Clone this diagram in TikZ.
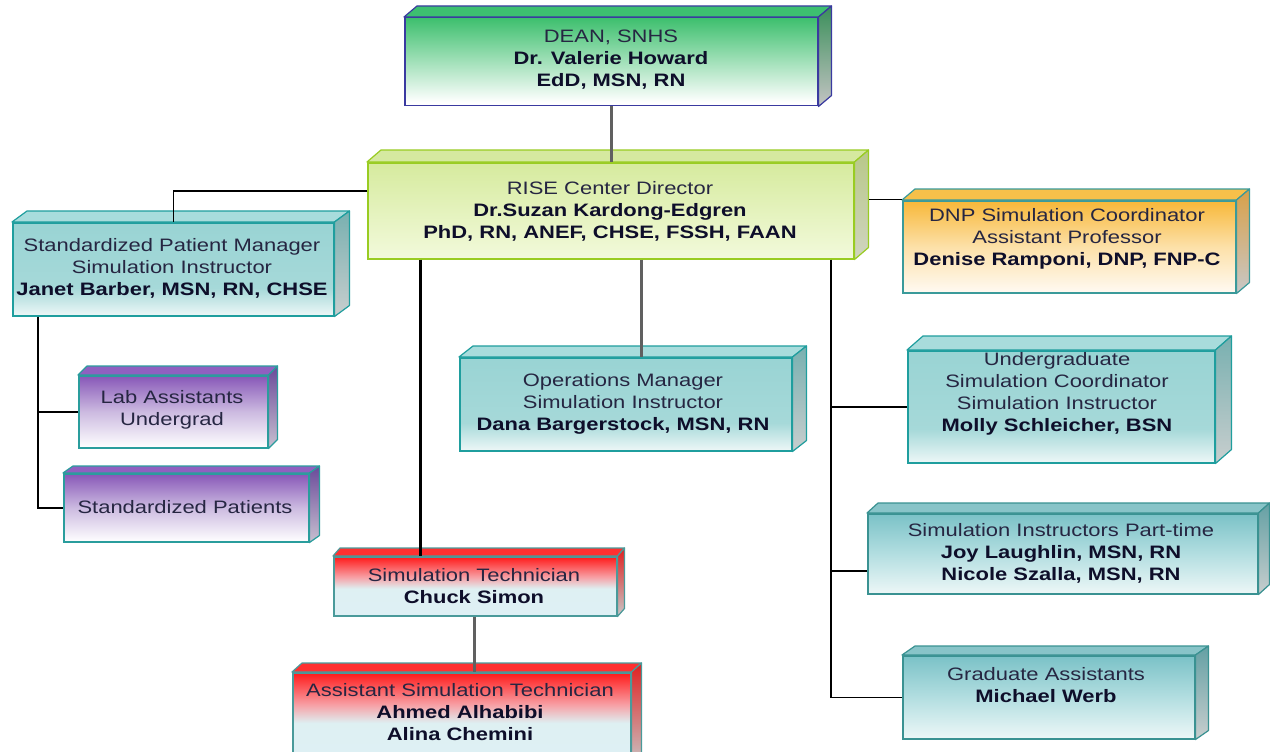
\documentclass[tikz,border=0pt]{standalone}
\usepackage{fontspec}
\setmainfont{Liberation Sans}[FakeStretch=1.22]
\usetikzlibrary{calc}
\definecolor{txtreg}{HTML}{262642}
\definecolor{txtbold}{HTML}{0E0E2A}
\definecolor{bdgreen}{HTML}{3A3AA0}
\definecolor{bdlime}{HTML}{99CC22}
\definecolor{bdteal}{HTML}{1F9E9E}
\definecolor{bdtealdk}{HTML}{3A9292}
\definecolor{bdpurple}{HTML}{2A9D9D}
\definecolor{bdorange}{HTML}{3A9A9A}
\definecolor{bdred}{HTML}{4A9A9A}
\pgfdeclareverticalshading{shgreen}{100bp}{rgb(0bp)=(1,1,1); rgb(27bp)=(1,1,1); rgb(75bp)=(0.24,0.75,0.43); rgb(100bp)=(0.24,0.75,0.43)}
\pgfdeclareverticalshading{shlime}{100bp}{rgb(0bp)=(0.95,0.98,0.86); rgb(25bp)=(0.95,0.98,0.86); rgb(75bp)=(0.84,0.92,0.62); rgb(100bp)=(0.84,0.92,0.62)}
\pgfdeclareverticalshading{shteal}{100bp}{rgb(0bp)=(0.93,0.97,0.97); rgb(25bp)=(0.93,0.97,0.97); rgb(40bp)=(0.65,0.85,0.85); rgb(75bp)=(0.60,0.83,0.83); rgb(100bp)=(0.60,0.83,0.83)}
\pgfdeclareverticalshading{shtealdk}{100bp}{rgb(0bp)=(0.93,0.97,0.97); rgb(25bp)=(0.93,0.97,0.97); rgb(50bp)=(0.70,0.87,0.88); rgb(75bp)=(0.48,0.76,0.78); rgb(100bp)=(0.48,0.76,0.78)}
\pgfdeclareverticalshading{shpurple}{100bp}{rgb(0bp)=(1,1,1); rgb(25bp)=(1,1,1); rgb(50bp)=(0.80,0.73,0.88); rgb(75bp)=(0.53,0.34,0.72); rgb(100bp)=(0.53,0.34,0.72)}
\pgfdeclareverticalshading{shorange}{100bp}{rgb(0bp)=(1,0.98,0.95); rgb(25bp)=(1,0.98,0.95); rgb(50bp)=(0.99,0.88,0.66); rgb(75bp)=(0.97,0.72,0.22); rgb(100bp)=(0.97,0.72,0.22)}
\pgfdeclareverticalshading{shred}{100bp}{rgb(0bp)=(0.87,0.94,0.96); rgb(25bp)=(0.87,0.94,0.96); rgb(48bp)=(0.87,0.94,0.95); rgb(58bp)=(0.97,0.62,0.64); rgb(75bp)=(1,0.1,0.1); rgb(100bp)=(1,0.1,0.1)}
\tikzset{
  frontgreen/.style={shading=shgreen},
  topgreen/.style={fill={rgb,255:red,61;green,191;blue,112}},
  sidegreen/.style={top color={rgb,255:red,58;green,143;blue,90}, bottom color={rgb,255:red,196;green,196;blue,196}},
  frontlime/.style={shading=shlime},
  toplime/.style={fill={rgb,255:red,213;green,233;blue,160}},
  sidelime/.style={top color={rgb,255:red,184;green,200;blue,136}, bottom color={rgb,255:red,208;green,212;blue,192}},
  frontteal/.style={shading=shteal},
  topteal/.style={fill={rgb,255:red,168;green,220;blue,220}},
  sideteal/.style={top color={rgb,255:red,120;green,176;blue,176}, bottom color={rgb,255:red,200;green,206;blue,206}},
  fronttealdk/.style={shading=shtealdk},
  toptealdk/.style={fill={rgb,255:red,136;green,196;blue,200}},
  sidetealdk/.style={top color={rgb,255:red,100;green,160;blue,164}, bottom color={rgb,255:red,200;green,206;blue,206}},
  frontpurple/.style={shading=shpurple},
  toppurple/.style={fill={rgb,255:red,144;green,96;blue,192}},
  sidepurple/.style={top color={rgb,255:red,106;green,74;blue,154}, bottom color={rgb,255:red,200;green,192;blue,208}},
  frontorange/.style={shading=shorange},
  toporange/.style={fill={rgb,255:red,247;green,192;blue,74}},
  sideorange/.style={top color={rgb,255:red,216;green,160;blue,72}, bottom color={rgb,255:red,200;green,200;blue,200}},
  frontred/.style={shading=shred},
  topred/.style={fill={rgb,255:red,255;green,48;blue,48}},
  sidered/.style={top color={rgb,255:red,224;green,32;blue,32}, bottom color={rgb,255:red,200;green,200;blue,200}},
  txt/.style={align=center, inner sep=0pt, text=txtreg, font=\fontsize{18}{22}\selectfont},
  bline/.style={draw=black, line width=1.5pt},
  bthick/.style={draw=black, line width=3pt},
  gthick/.style={draw={rgb,255:red,96;green,96;blue,96}, line width=3pt},
}
\newcommand{\cbox}[8]{%
  \node[front#8, draw=bd#8, line width=1.5pt, inner sep=0pt, minimum width={#4-#2}, minimum height={#5-#3}, anchor=north west] (#1) at (#2,#3) {};
  \filldraw[top#8, draw=bd#8, line width=1.2pt, line join=round] (#1.north west) -- ++(#6,-#7) -- ($(#1.north east)+(#6,-#7)$) -- (#1.north east) -- cycle;
  \filldraw[side#8, draw=bd#8, line width=1.2pt, line join=round] (#1.north east) -- ++(#6,-#7) -- ($(#1.south east)+(#6,-#7)$) -- (#1.south east) -- cycle;
}
\newcommand{\bl}[1]{{\color{txtbold}\bfseries #1}}
\begin{document}
\begin{tikzpicture}[x=1pt,y=-1pt]
\useasboundingbox (0,0) rectangle (1270,752);
\clip (0,0) rectangle (1270,752);
\fill[white] (0,0) rectangle (1270,752);

\cbox{dean}{404}{17}{817}{105}{13}{11}{green}
\cbox{dir}{367}{162}{853}{258}{14}{12}{lime}
\cbox{spm}{12}{222}{333}{315}{15}{11}{teal}
\cbox{lab}{78}{375}{267}{447}{9}{9}{purple}
\cbox{sp}{63}{473}{308}{541}{10}{7}{purple}
\cbox{ops}{459}{357}{791}{450}{14}{11}{teal}
\cbox{ug}{907}{350}{1214}{462}{16}{14}{teal}
\cbox{dnp}{902}{200}{1235}{292}{13}{11}{orange}
\cbox{pt}{867}{513}{1257}{593}{11}{10}{tealdk}
\cbox{grad}{902}{655}{1194}{738}{13}{9}{tealdk}
\cbox{simt}{333}{556}{616}{615}{7}{8}{red}
\cbox{asst}{292}{672}{630}{765}{10}{9}{red}

% connectors
\draw[gthick] (611,0 |- dean.south) -- (611,0 |- dir.north);
\draw[bline] ([yshift=20pt]dir.west) -| (spm.north);
\draw[bline, line width=1.2pt] ([xshift=14pt,yshift=11pt]dir.east) -- ([yshift=11pt]dnp.west |- dir.east);
\draw[bthick] (420,0 |- dir.south) -- (420,0 |- simt.north);
\draw[gthick] (641,0 |- dir.south) -- (641,0 |- ops.north);
\draw[bline] (831,0 |- dir.south) |- (grad.west);
\draw[bline] (831,0 |- ug.west) -- (ug.west);
\draw[bline] (831,0 |- pt.west) ++(0,17) -- ([yshift=-17pt]pt.west);
\draw[bline, line width=2pt] (38,0 |- spm.south) |- (sp.west);
\draw[bline, line width=2pt] (38,0 |- lab.west) -- (lab.west);
\draw[gthick] (474,0 |- simt.south) -- (474,0 |- asst.north);

% texts
\node[txt] (dean-t) at (611,60) {DEAN, SNHS\\\bl{Dr. Valerie Howard}\\\bl{EdD, MSN, RN}};
\node[txt] (dir-t) at (610,211) {RISE Center Director\\\bl{Dr.Suzan Kardong-Edgren}\\\bl{PhD, RN, ANEF, CHSE, FSSH, FAAN}};
\node[txt] (spm-t) at (172,268) {Standardized Patient Manager\\Simulation Instructor\\\bl{Janet Barber, MSN, RN, CHSE}};
\node[txt] (lab-t) at (172,410) {Lab Assistants\\Undergrad};
\node[txt] (sp-t) at (185,507) {Standardized Patients};
\node[txt] (ops-t) at (623,404) {Operations Manager\\Simulation Instructor\\\bl{Dana Bargerstock, MSN, RN}};
\node[txt] (ug-t) at (1057,394) {Undergraduate\\Simulation Coordinator\\Simulation Instructor\\\bl{Molly Schleicher, BSN}};
\node[txt] (dnp-t) at (1067,239) {DNP Simulation Coordinator\\Assistant Professor\\\bl{Denise Ramponi, DNP, FNP-C}};
\node[txt] (pt-t) at (1061,553) {Simulation Instructors Part-time\\\bl{Joy Laughlin, MSN, RN}\\\bl{Nicole Szalla, MSN, RN}};
\node[txt] (grad-t) at (1046,685) {Graduate Assistants\\\bl{Michael Werb}};
\node[txt] (simt-t) at (474,586) {Simulation Technician\\\bl{Chuck Simon}};
\node[txt] (asst-t) at (460,712) {Assistant Simulation Technician\\\bl{Ahmed Alhabibi}\\\bl{Alina Chemini}};
\end{tikzpicture}
\end{document}
